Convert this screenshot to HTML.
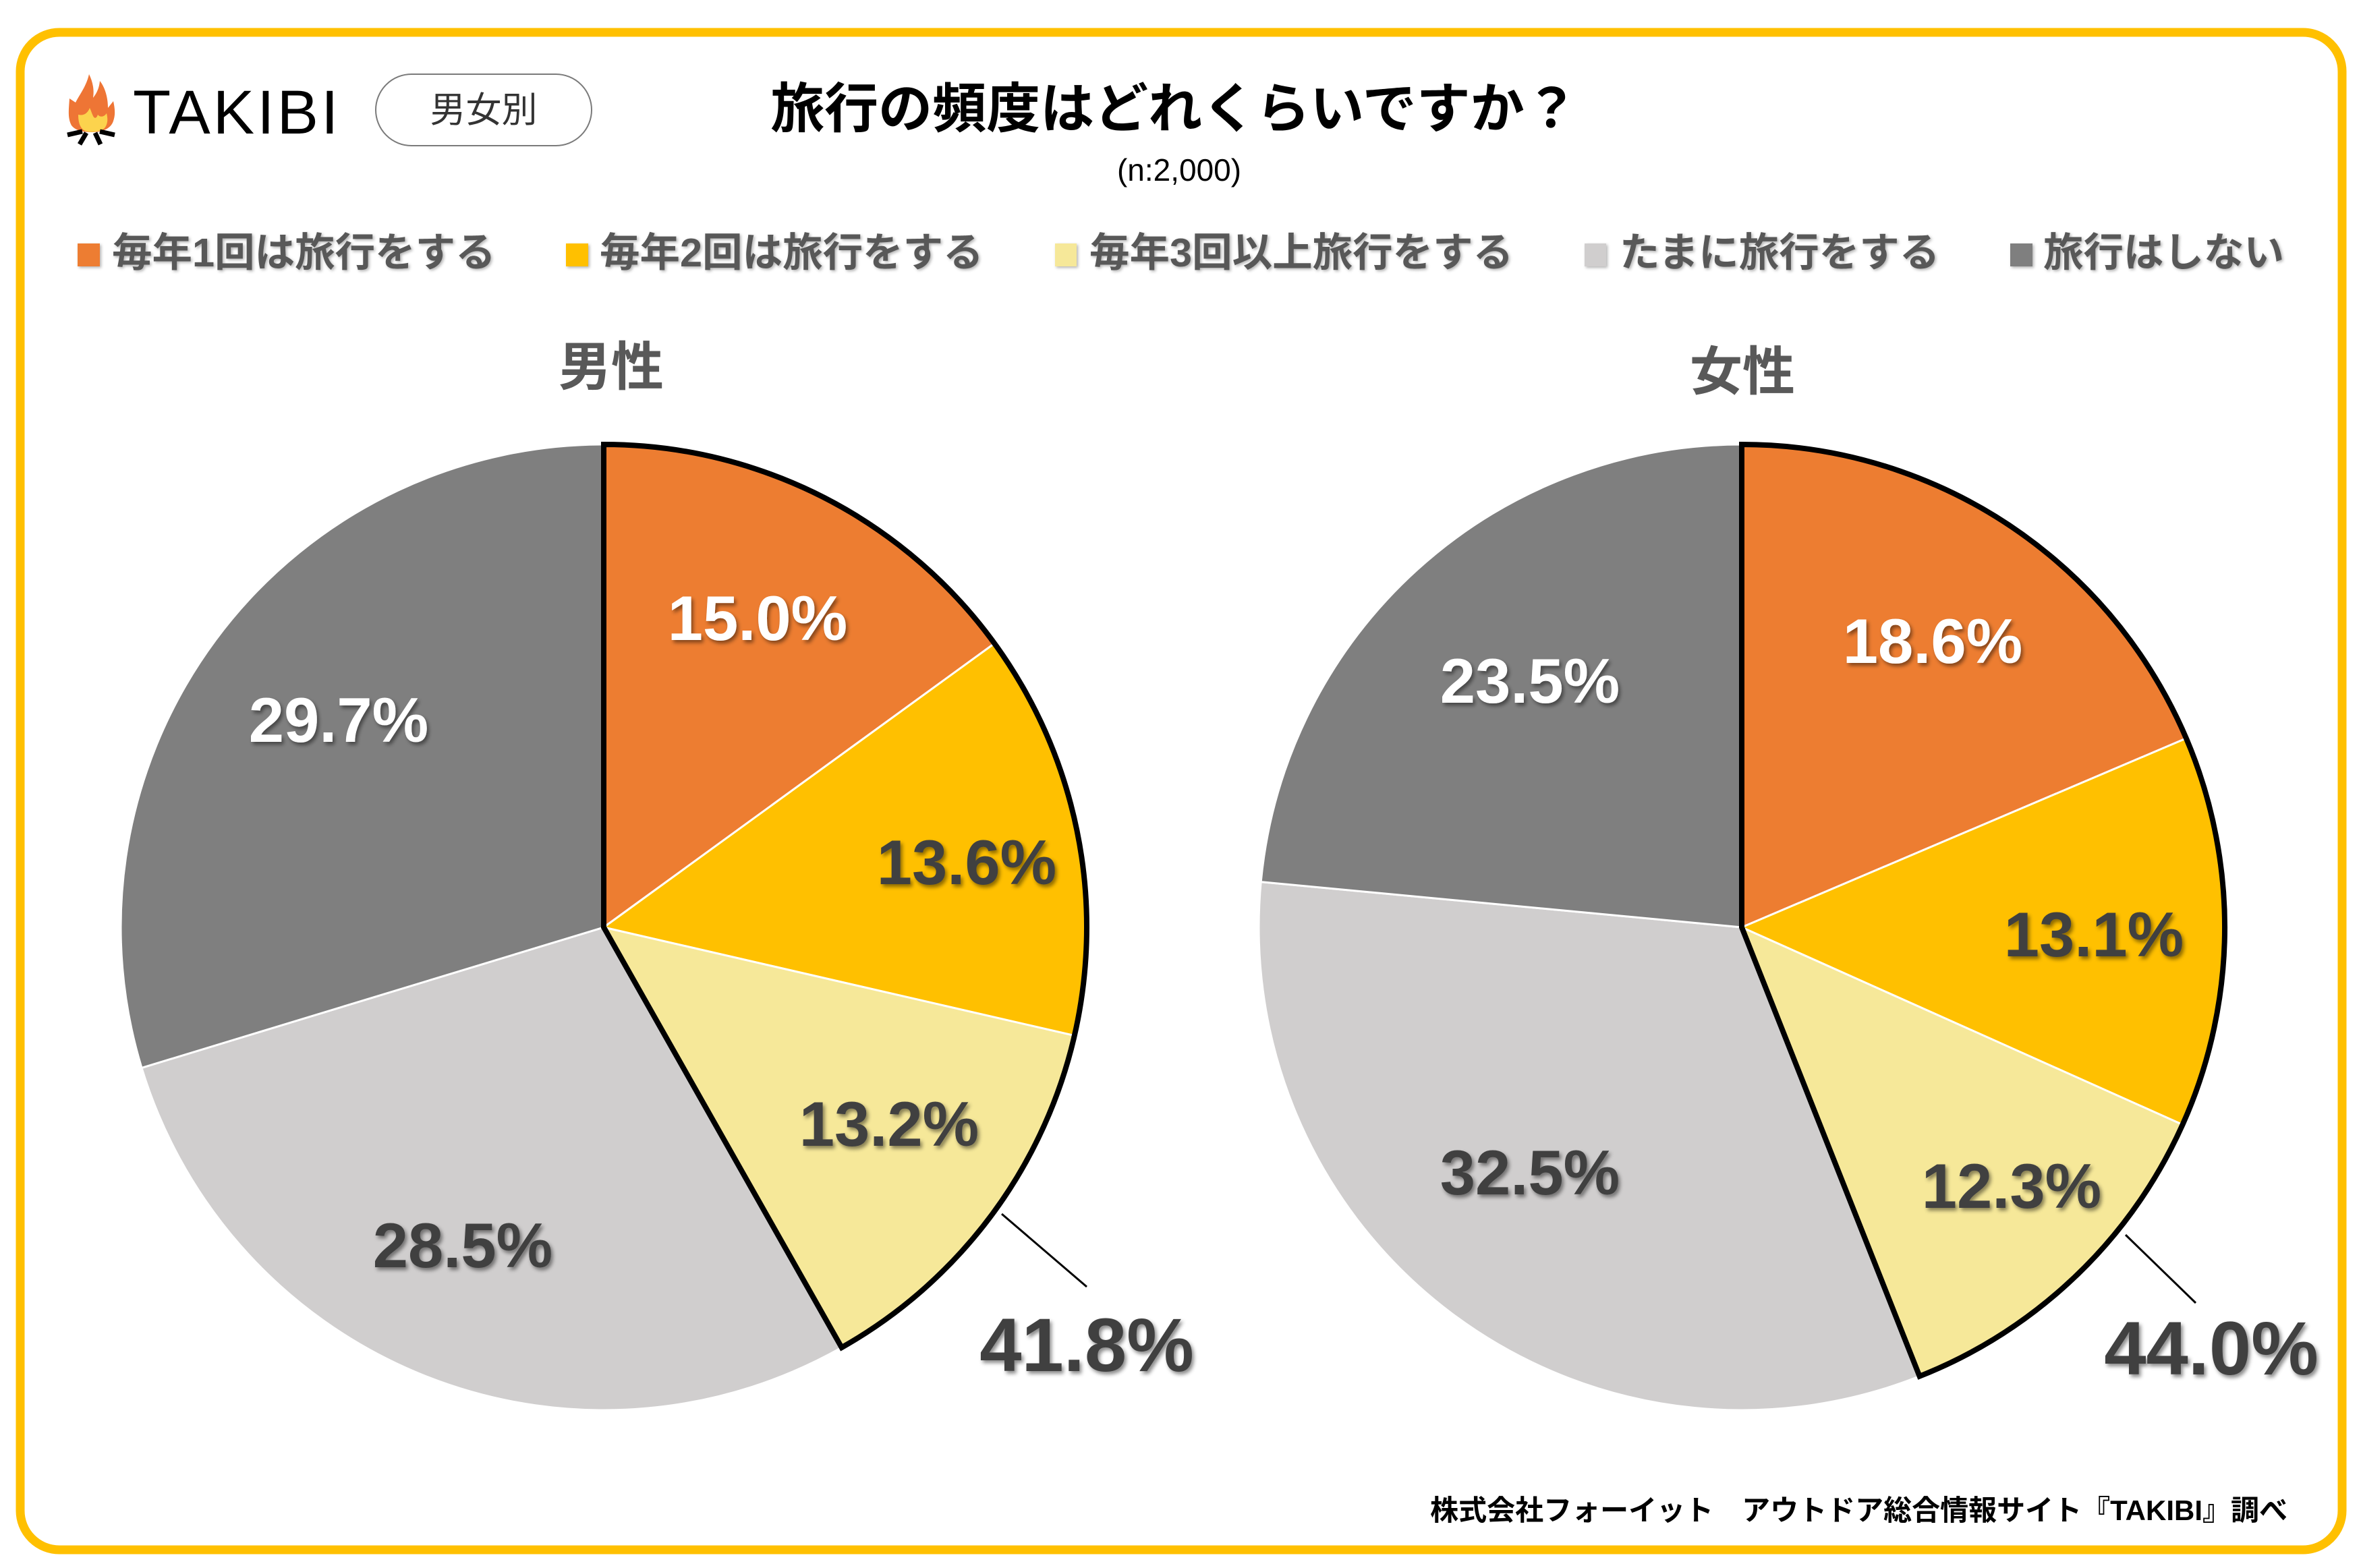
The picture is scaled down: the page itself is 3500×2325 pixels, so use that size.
<!DOCTYPE html>
<html><head><meta charset="utf-8">
<style>
html,body{margin:0;padding:0;background:#fff;}
svg{display:block;}
</style></head>
<body>
<svg xmlns="http://www.w3.org/2000/svg" width="3500" height="2325" viewBox="0 0 3500 2325">
<defs>
<filter id="sh" x="-20%" y="-20%" width="140%" height="140%">
<feDropShadow dx="3" dy="4" stdDeviation="3" flood-color="#000" flood-opacity="0.45"/>
</filter>
<filter id="sh2" x="-10%" y="-30%" width="120%" height="160%">
<feDropShadow dx="2" dy="2" stdDeviation="2" flood-color="#000" flood-opacity="0.3"/>
</filter>
</defs>
<rect x="0" y="0" width="3500" height="2325" fill="#fff"/>
<rect x="30" y="48" width="3442" height="2250" rx="58" ry="58" fill="#fff" stroke="#FFC000" stroke-width="13"/>

<!-- Logo flame -->
<g>
<path d="M132,110 C128,128 118,140 112,152 L103,146 C102,162 100,175 106,186 C112,194 124,196 136,196 C150,196 162,192 167,182 C172,170 170,160 168,150 L160,160 C160,145 156,130 148,120 C147,132 142,140 138,145 C140,132 137,120 132,110 Z" fill="#EE7535"/>
<path d="M133,160 C130,168 124,172 116,170 C116,180 118,190 126,194 C134,197 148,196 155,190 C160,184 160,176 158,168 C154,174 148,174 145,170 C143,176 140,176 138,172 C136,168 135,164 133,160 Z" fill="#FCD34D"/>
<g stroke="#000" stroke-width="7" stroke-linecap="butt">
<line x1="122" y1="195" x2="100" y2="200"/>
<line x1="128" y1="197" x2="118" y2="214"/>
<line x1="141" y1="197" x2="149" y2="214"/>
<line x1="148" y1="195" x2="170" y2="200"/>
</g>
</g>
<text x="197" y="198" font-family="Liberation Sans, sans-serif" font-size="92" fill="#000" letter-spacing="4">TAKIBI</text>

<!-- pill -->
<rect x="557" y="110" width="320" height="106" rx="53" ry="53" fill="#fff" stroke="#7a7a7a" stroke-width="2"/>
<text x="717" y="181" text-anchor="middle" font-family="Liberation Sans, Noto Sans CJK JP, sans-serif" font-size="53" fill="#333">男女別</text>

<!-- title -->
<text x="1741" y="189" text-anchor="middle" font-family="Liberation Sans, Noto Sans CJK JP, sans-serif" font-size="80" font-weight="bold" fill="#000">旅行の頻度はどれくらいですか？</text>
<text x="1748" y="268" text-anchor="middle" font-family="Liberation Sans, sans-serif" font-size="46" fill="#000">(n:2,000)</text>

<!-- legend -->
<g font-family="Liberation Sans, Noto Sans CJK JP, sans-serif" font-size="59.5" font-weight="bold" fill="#595959" filter="url(#sh2)">
<rect x="115" y="361" width="33" height="34" fill="#ED7D31"/>
<text x="166" y="395">毎年1回は旅行をする</text>
<rect x="839" y="361" width="33" height="34" fill="#FFC000"/>
<text x="889" y="395">毎年2回は旅行をする</text>
<rect x="1564" y="361" width="32" height="34" fill="#F6E899"/>
<text x="1615" y="395">毎年3回以上旅行をする</text>
<rect x="2349" y="361" width="32" height="34" fill="#D0CECE"/>
<text x="2401" y="395">たまに旅行をする</text>
<rect x="2980" y="361" width="33" height="34" fill="#7F7F7F"/>
<text x="3029" y="395">旅行はしない</text>
</g>

<!-- sub titles -->
<text x="906" y="571" text-anchor="middle" font-family="Liberation Sans, Noto Sans CJK JP, sans-serif" font-size="78" font-weight="bold" fill="#595959">男性</text>
<text x="2583" y="578" text-anchor="middle" font-family="Liberation Sans, Noto Sans CJK JP, sans-serif" font-size="78" font-weight="bold" fill="#595959">女性</text>

<!-- Male pie -->
<g stroke="#fff" stroke-width="3" stroke-linejoin="round">
<path d="M895,1375 L895,659 A716,716 0 0 1 1474.2,954.1 Z" fill="#ED7D31"/>
<path d="M895,1375 L1474.2,954.1 A716,716 0 0 1 1592.8,1535.6 Z" fill="#FFC000"/>
<path d="M895,1375 L1592.8,1535.6 A716,716 0 0 1 1247.7,1998.1 Z" fill="#F6E899"/>
<path d="M895,1375 L1247.7,1998.1 A716,716 0 0 1 210.0,1583.4 Z" fill="#D0CECE"/>
<path d="M895,1375 L210.0,1583.4 A716,716 0 0 1 895,659 Z" fill="#7F7F7F"/>
</g>
<path d="M895,1375 L895,659 A716,716 0 0 1 1247.7,1998.1 Z" fill="none" stroke="#000" stroke-width="8" stroke-linejoin="miter"/>
<line x1="1485" y1="1800" x2="1611" y2="1908" stroke="#000" stroke-width="3"/>

<!-- Female pie -->
<g stroke="#fff" stroke-width="3" stroke-linejoin="round">
<path d="M2582,1375 L2582,659 A716,716 0 0 1 3240.9,1094.8 Z" fill="#ED7D31"/>
<path d="M2582,1375 L3240.9,1094.8 A716,716 0 0 1 3235.5,1667.6 Z" fill="#FFC000"/>
<path d="M2582,1375 L3235.5,1667.6 A716,716 0 0 1 2845.6,2040.7 Z" fill="#F6E899"/>
<path d="M2582,1375 L2845.6,2040.7 A716,716 0 0 1 1869.2,1307.6 Z" fill="#D0CECE"/>
<path d="M2582,1375 L1869.2,1307.6 A716,716 0 0 1 2582,659 Z" fill="#7F7F7F"/>
</g>
<path d="M2582,1375 L2582,659 A716,716 0 0 1 2845.6,2040.7 Z" fill="none" stroke="#000" stroke-width="8" stroke-linejoin="miter"/>
<line x1="3151" y1="1831" x2="3255" y2="1932" stroke="#000" stroke-width="3"/>

<!-- labels -->
<g font-family="Liberation Sans, sans-serif" font-weight="bold" text-anchor="middle" filter="url(#sh)">
<g font-size="94">
<text x="1123" y="949" fill="#fff">15.0%</text>
<text x="1433" y="1311" fill="#404040">13.6%</text>
<text x="1318" y="1699" fill="#404040">13.2%</text>
<text x="686" y="1879" fill="#404040">28.5%</text>
<text x="502" y="1100" fill="#fff">29.7%</text>
<text x="2865" y="983" fill="#fff">18.6%</text>
<text x="3104" y="1418" fill="#404040">13.1%</text>
<text x="2982" y="1791" fill="#404040">12.3%</text>
<text x="2268" y="1771" fill="#404040">32.5%</text>
<text x="2268" y="1042" fill="#fff">23.5%</text>
</g>
<g font-size="112" fill="#404040">
<text x="1611" y="2033">41.8%</text>
<text x="3278" y="2038">44.0%</text>
</g>
</g>

<!-- footer -->
<text x="3391" y="2254" text-anchor="end" font-family="Liberation Sans, Noto Sans CJK JP, sans-serif" font-size="42" font-weight="bold" fill="#000">株式会社フォーイット　アウトドア総合情報サイト『TAKIBI』調べ</text>
</svg>
</body></html>
